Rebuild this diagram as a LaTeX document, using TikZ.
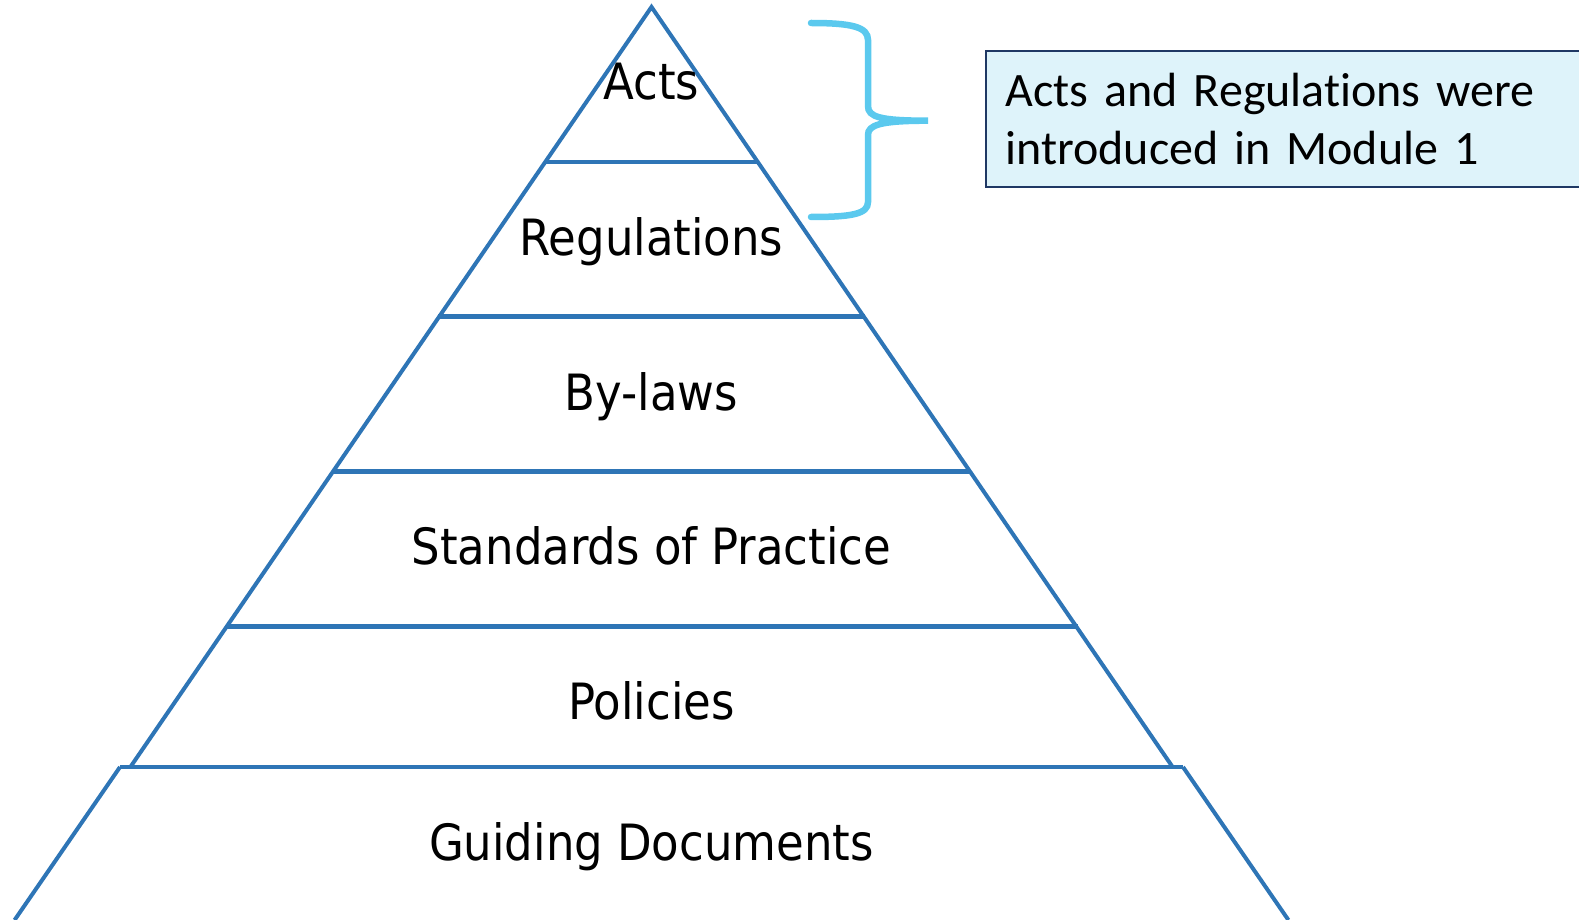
\documentclass[tikz,border=0pt]{standalone}
\usepackage{fontspec}
\usepackage{tikz}
\usetikzlibrary{positioning, calc}
\newfontfamily\pyrfont{DejaVu Sans Condensed}
\newfontfamily\notefont[Ligatures=NoCommon]{Carlito}
\newcommand\notetext{\notefont\fontsize{48}{58}\selectfont\spaceskip=8pt\relax}
\definecolor{pyrblue}{HTML}{2E75B6}
\definecolor{bracecyan}{HTML}{5BC9EE}
\definecolor{notefill}{HTML}{DEF3FA}
\definecolor{notedraw}{HTML}{1F3864}

\begin{document}
\begin{tikzpicture}[
    x=1pt, y=-1pt,
    side/.style={draw=pyrblue, line width=4pt, line join=miter},
    tier/.style={draw=pyrblue, line width=4.2pt},
    layer/.style={anchor=base, font=\pyrfont\fontsize{50}{60}\selectfont, inner sep=0pt},
    brace/.style={draw=bracecyan, line width=6.5pt, line cap=round},
    note/.style={draw=notedraw, line width=2pt, fill=notefill, anchor=north west, minimum width=640pt, minimum height=136pt, text width=600pt, inner xsep=20pt, align=left, font=\notetext}
]
    \clip (0,0) rectangle (1579,920);
    \useasboundingbox (0,0) rectangle (1579,920);

    % Pyramid outline
    \coordinate (apex) at (651.5,7);
    \draw[side] (130.4,767) -- (apex) -- (1172.6,767);
    \draw[side] (120,767) -- (14.6,920);
    \draw[side] (1183,767) -- (1288.4,920);

    % Tier lines
    \draw[tier] (544.4,162) -- (758.6,162);
    \draw[tier] (438.2,316.5) -- (864.8,316.5);
    \draw[tier] (331.9,471.5) -- (971.1,471.5);
    \draw[tier] (225.5,626.5) -- (1077.5,626.5);
    \draw[tier] (120,767) -- (1183,767);

    % Layer labels
    \node[layer] (acts) at (651.5,100) {Acts};
    \node[layer] (regs) at (651.5,255) {Regulations};
    \node[layer] (bylaws) at (651.5,410) {By-laws};
    \node[layer] (stds) at (651.5,564) {Standards of Practice};
    \node[layer] (pols) at (651.5,719) {Policies};
    \node[layer] (guide) at (651.5,860) {Guiding Documents};

    % Brace and note
    \draw[brace] (811,23) .. controls (852,23) and (868,27) .. (868,40) -- (868,106)
        .. controls (868,117) and (880,120.7) .. (928,120.7)
        .. controls (880,120.7) and (868,125) .. (868,135) -- (868,202)
        .. controls (868,214) and (852,217) .. (811,217);
    \node[note] (module) at (984.5,50) {Acts and Regulations were\\introduced in Module 1};
\end{tikzpicture}
\end{document}
